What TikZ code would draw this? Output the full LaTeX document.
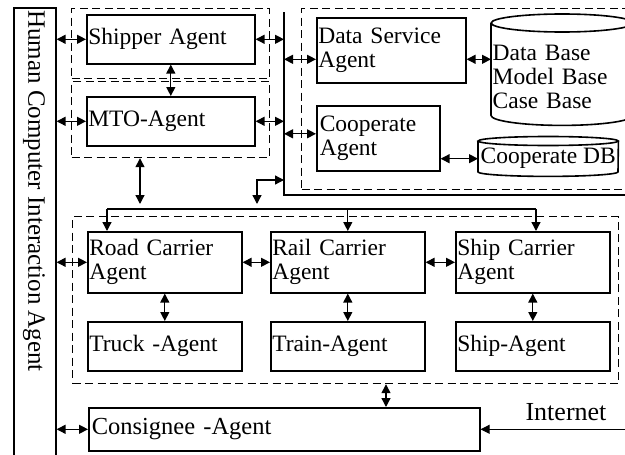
\documentclass[tikz,border=0pt]{standalone}
\usepackage{fontspec}
\setmainfont{Liberation Serif}
\usetikzlibrary{arrows.meta}

\begin{document}
\begin{tikzpicture}[x=1pt,y=-1pt,
  font=\fontsize{23.5}{24}\selectfont,
  agent/.style={draw, line width=1.6pt, anchor=north west, inner xsep=1.5pt, inner ysep=0pt, align=left},
  dashgroup/.style={draw, line width=1.2pt, dash pattern=on 8pt off 4.5pt, anchor=north west, inner sep=0pt},
  store/.style={anchor=north west, inner xsep=1.5pt, inner ysep=0pt, align=left},
  twoway/.style={line width=1.3pt, {Triangle[length=9pt,width=9pt]}-{Triangle[length=9pt,width=9pt]}},
  oneway/.style={line width=1.3pt, -{Triangle[length=9pt,width=9pt]}}]
\clip (0,0) rectangle (625,455);

\node[draw, line width=1.6pt, anchor=north west, minimum width=42, minimum height=460, inner sep=0pt] (hci) at (13,7) {};
\node[rotate=-90, anchor=west, inner sep=0pt, font=\fontsize{25}{26}\selectfont] (hcitext) at (34,10) {Human Computer Interaction Agent};

\node[dashgroup, minimum width=198, minimum height=70] (shipgrp) at (71,8) {};
\node[dashgroup, minimum width=198, minimum height=76] (mtogrp) at (71,81) {};
\node[dashgroup, minimum width=330, minimum height=181] (datagrp) at (301,8) {};
\node[dashgroup, minimum width=546, minimum height=167] (carrgrp) at (72,216) {};

\draw[line width=1.6pt] (284,12) coordinate (frametop) -- (284,195) -- (630,195);

\node[agent, minimum width=168, minimum height=49, text width=165] (shipper) at (86,14) {Shipper Agent};
\node[agent, minimum width=168, minimum height=49, text width=165] (mto) at (86,96) {MTO-Agent};
\node[agent, minimum width=149, minimum height=65, text width=146] (dsa) at (316,17) {Data Service\\Agent};
\node[agent, minimum width=123, minimum height=65, text width=117, inner xsep=3pt] (coop) at (316,105) {Cooperate\\Agent};

\node[store, minimum width=142, minimum height=108, text width=139] (db) at (491,23) {Data Base\\Model Base\\Case Base};
\draw[line width=1.6pt] (db.north) ellipse [x radius=71pt, y radius=9pt];
\draw[line width=1.6pt] (db.north west) -- ([yshift=16pt]db.south west) arc[start angle=180, end angle=360, x radius=71pt, y radius=10pt] -- (db.north east);

\node[store, minimum width=140, minimum height=35, inner xsep=0pt] (coopdb) at (478,141) {Cooperate DB};
\draw[line width=1.6pt] (coopdb.north) ellipse [x radius=70pt, y radius=4.5pt];
\draw[line width=1.6pt] (coopdb.north west) -- ([yshift=4.5pt]coopdb.south west) arc[start angle=180, end angle=360, x radius=70pt, y radius=4.5pt] -- (coopdb.north east);

\foreach \name/\sub/\x/\ctext/\atext in {
  road/truck/87/{Road Carrier\\Agent}/{Truck -Agent},
  rail/train/270/{Rail Carrier\\Agent}/{Train-Agent},
  ship/shipag/455/{Ship Carrier\\Agent}/{Ship-Agent}
} {
  \node[agent, minimum width=154, minimum height=61, text width=151] (\name) at (\x,231) {\ctext};
  \node[agent, minimum width=154, minimum height=49, text width=151] (\sub) at (\x,321) {\atext};
  \draw[twoway] (\name.south) -- (\sub.north);
}

\node[agent, minimum width=391, minimum height=43, text width=385, inner xsep=3pt, font=\fontsize{24.5}{25}\selectfont] (consignee) at (88,407) {Consignee -Agent};
\node[inner sep=0pt, font=\fontsize{26}{27}\selectfont] (netlabel) at (566,412) {Internet};

\coordinate (dsain) at ([yshift=-9pt]dsa.west);
\coordinate (dsaout) at ([yshift=-9pt]dsa.east);
\coordinate (coopin) at ([yshift=4.5pt]coop.west);
\coordinate (mtodown) at (140,204);
\coordinate (elbow) at (257,204);
\coordinate (elbowtop) at (257,180);
\coordinate (busl) at (107,209);
\coordinate (busr) at (536,209);
\coordinate (cdown) at (386,0);
\coordinate (net) at (625,0);

\draw[twoway] (hci.east |- shipper.west) -- (shipper.west);
\draw[twoway] (hci.east |- mto.west) -- (mto.west);
\draw[twoway] (hci.east |- road.west) -- (road.west);
\draw[twoway] (hci.east |- consignee.west) -- (consignee.west);
\draw[twoway] (shipper.south) -- (mto.north);
\draw[twoway] (shipper.east) -- (shipper.east -| frametop);
\draw[twoway] (mto.east) -- (mto.east -| frametop);
\draw[twoway] (dsain -| frametop) -- (dsain);
\draw[twoway] (coopin -| frametop) -- (coopin);
\draw[twoway] (dsaout) -- (dsaout -| db.west);
\draw[twoway] (coop.east |- coopdb.west) -- (coopdb.west);
\draw[twoway] (mtodown |- mtogrp.south) -- (mtodown);
\draw[twoway] (elbow) -- (elbowtop) -- (elbowtop -| frametop);
\draw[line width=1.3pt] (busl) -- (busr);
\draw[oneway] (busl) -- (road.north -| busl);
\draw[oneway] (rail.north |- busl) -- (rail.north);
\draw[oneway] (busr) -- (ship.north -| busr);
\draw[twoway] (road.east) -- (rail.west);
\draw[twoway] (rail.east) -- (ship.west);
\draw[twoway] (carrgrp.south -| cdown) -- (consignee.north -| cdown);
\draw[oneway, line width=1pt] (net |- consignee.east) -- (consignee.east);
\end{tikzpicture}
\end{document}
